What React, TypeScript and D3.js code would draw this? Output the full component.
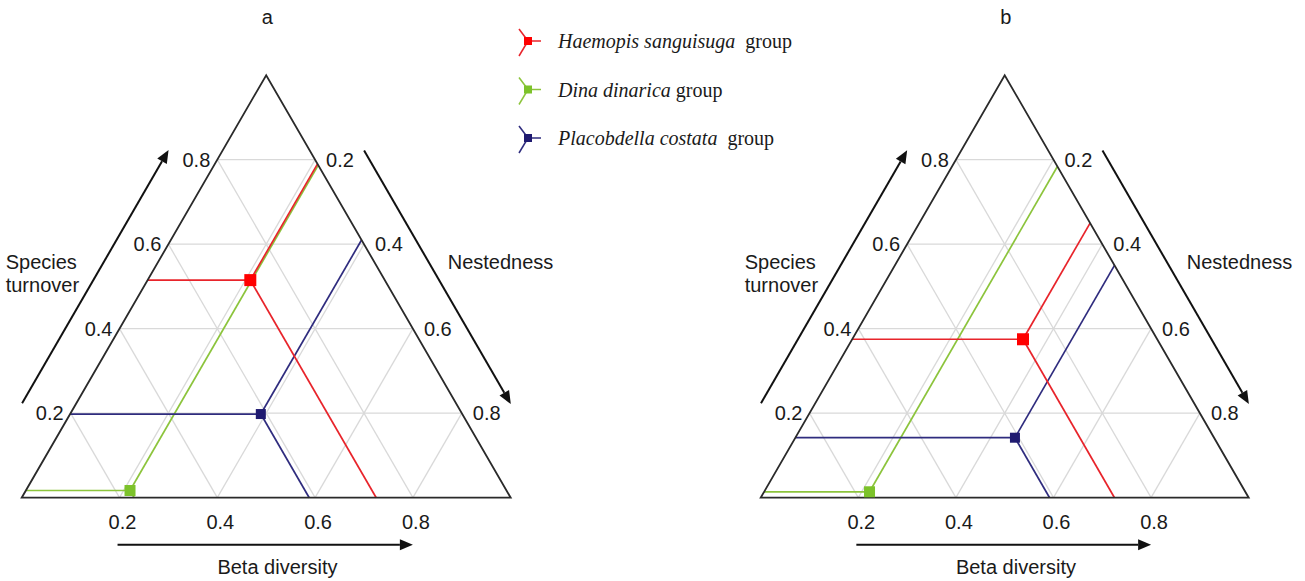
import React, { useEffect, useRef } from 'react'
import * as d3 from 'd3'

// groups and values
const groupNames = ['Haemopis sanguisuga', 'Dina dinarica', 'Placobdella costata'];
const groupSpacing = [2, 1, 2];
const groupColors = ['#e8242b', '#8cc43c', '#2f2c7e'];
const markerColors = ['#ff0000', '#7cc22a', '#1f1a70'];

const turnoverA = [0.515, 0.017, 0.198];
const nestednessA = [0.21, 0.213, 0.39];
const turnoverB = [0.375, 0.014, 0.142];
const nestednessB = [0.35, 0.216, 0.45];

const ticks = [0.2, 0.4, 0.6, 0.8];
const tickLabels = ['0.2', '0.4', '0.6', '0.8'];

const SANS = '"Liberation Sans", Arial, sans-serif';
const SERIF = '"Liberation Serif", "Times New Roman", serif';

interface Panel {
  label: string;
  x0: number;
  y0: number;
  w: number;
  h: number;
  turnover: number[];
  nestedness: number[];
}

const panels: Panel[] = [
  { label: 'a', x0: 21.7, y0: 497.7, w: 489, h: 422.5, turnover: turnoverA, nestedness: nestednessA },
  { label: 'b', x0: 760.7, y0: 497.7, w: 488, h: 422.5, turnover: turnoverB, nestedness: nestednessB },
];

function drawArrow(g: any, p0: number[], p1: number[]) {
  const dx = p1[0] - p0[0], dy = p1[1] - p0[1];
  const len = Math.sqrt(dx * dx + dy * dy);
  const ux = dx / len, uy = dy / len;
  const hl = 13, hw = 5.5;
  const bx = p1[0] - ux * hl, by = p1[1] - uy * hl;
  g.append('line')
    .attr('x1', p0[0]).attr('y1', p0[1])
    .attr('x2', bx).attr('y2', by)
    .attr('stroke', '#111').attr('stroke-width', 2);
  g.append('path')
    .attr('d', `M${p1[0]},${p1[1]}L${bx - uy * hw},${by + ux * hw}L${bx + uy * hw},${by - ux * hw}Z`)
    .attr('fill', '#111');
}

function drawPanel(svg: any, p: Panel) {
  const g = svg.append('g');
  const xScale = d3.scaleLinear().domain([0, 1]).range([p.x0, p.x0 + p.w]);
  const yScale = d3.scaleLinear().domain([0, 1]).range([p.y0, p.y0 - p.h]);
  // r = nestedness, t = turnover
  const proj = (r: number, t: number) => [xScale(r + t / 2), yScale(t)];
  const line = d3.line();

  // grid
  ticks.forEach(k => {
    [
      [proj(0, k), proj(1 - k, k)],
      [proj(k, 0), proj(k, 1 - k)],
      [proj(1 - k, 0), proj(0, 1 - k)],
    ].forEach(seg => {
      g.append('path')
        .attr('d', line(seg as any))
        .attr('stroke', '#d9d9d9')
        .attr('stroke-width', 1.3)
        .attr('fill', 'none');
    });
  });

  // data lines
  const order = [1, 2, 0];
  order.forEach(i => {
    const t = p.turnover[i], r = p.nestedness[i];
    const pt = proj(r, t);
    [
      [proj(0, t), pt],
      [pt, proj(r, 1 - r)],
      [pt, proj(r + t, 0)],
    ].forEach(seg => {
      g.append('path')
        .attr('d', line(seg as any))
        .attr('stroke', groupColors[i])
        .attr('stroke-width', 1.7)
        .attr('fill', 'none');
    });
  });

  // triangle
  g.append('path')
    .attr('d', line([proj(0, 0), proj(1, 0), proj(0, 1)] as any) + 'Z')
    .attr('stroke', '#2a2a2a')
    .attr('stroke-width', 1.8)
    .attr('stroke-linejoin', 'miter')
    .attr('fill', 'none');

  // points
  const sizes = [12, 11, 10];
  order.forEach(i => {
    const pt = proj(p.nestedness[i], p.turnover[i]);
    g.append('rect')
      .attr('x', pt[0] - sizes[i] / 2)
      .attr('y', pt[1] - sizes[i] / 2)
      .attr('width', sizes[i])
      .attr('height', sizes[i])
      .attr('fill', markerColors[i]);
  });

  // tick labels
  ticks.forEach((k, j) => {
    const left = proj(0, k);
    g.append('text')
      .attr('x', left[0] - 7).attr('y', left[1] + 7)
      .attr('text-anchor', 'end')
      .text(tickLabels[j]);
    const right = proj(k, 1 - k);
    g.append('text')
      .attr('x', right[0] + 11).attr('y', right[1] + 7)
      .attr('text-anchor', 'start')
      .text(tickLabels[j]);
    const bottom = proj(k, 0);
    g.append('text')
      .attr('x', bottom[0] + 3).attr('y', bottom[1] + 31)
      .attr('text-anchor', 'middle')
      .text(tickLabels[j]);
  });

  // axis arrows
  const off = 47;
  const bl = proj(0, 0), br = proj(1, 0), top = proj(0, 1);
  const ex = top[0] - bl[0], ey = top[1] - bl[1];
  const el = Math.sqrt(ex * ex + ey * ey);
  const nlx = ey / el, nly = -ex / el;
  drawArrow(g,
    [bl[0] + 0.168 * ex + off * nlx, bl[1] + 0.168 * ey + off * nly],
    [bl[0] + 0.767 * ex + off * nlx, bl[1] + 0.767 * ey + off * nly]);
  const fx = br[0] - top[0], fy = br[1] - top[1];
  const nrx = -fy / el, nry = fx / el;
  drawArrow(g,
    [top[0] + 0.234 * fx - off * nrx, top[1] + 0.234 * fy - off * nry],
    [top[0] + 0.834 * fx - off * nrx, top[1] + 0.834 * fy - off * nry]);
  drawArrow(g,
    [xScale(0.196), p.y0 + off],
    [xScale(0.80), p.y0 + off]);

  // axis titles
  g.append('text').attr('x', p.x0 - 16).attr('y', p.y0 - 229).text('Species');
  g.append('text').attr('x', p.x0 - 16).attr('y', p.y0 - 206).text('turnover');
  g.append('text').attr('x', p.x0 + 426).attr('y', p.y0 - 229).text('Nestedness');
  g.append('text')
    .attr('x', xScale(0.523)).attr('y', p.y0 + 76)
    .attr('text-anchor', 'middle')
    .text('Beta diversity');

  g.append('text')
    .attr('x', top[0] + 1).attr('y', 24)
    .attr('text-anchor', 'middle')
    .text(p.label);
}

export default function App() {
  const svgRef = useRef<SVGSVGElement>(null);

  useEffect(() => {
    if (!svgRef.current) return;
    const svg = d3.select(svgRef.current);
    svg.selectAll('*').remove();

    const root = svg.append('g')
      .attr('font-family', SANS)
      .attr('font-size', 20)
      .attr('fill', '#1a1a1a');

    panels.forEach(p => drawPanel(root, p));

    // legend
    const ly = d3.scaleLinear().domain([0, 2]).range([41, 138]);
    groupNames.forEach((name, i) => {
      const cx = 528, cy = ly(i);
      const lg = svg.append('g');
      lg.append('line')
        .attr('x1', cx).attr('y1', cy).attr('x2', cx + 13).attr('y2', cy)
        .attr('stroke', groupColors[i]).attr('stroke-width', 1.5);
      lg.append('line')
        .attr('x1', cx).attr('y1', cy).attr('x2', cx - 9).attr('y2', cy - 12)
        .attr('stroke', groupColors[i]).attr('stroke-width', 1.5);
      lg.append('line')
        .attr('x1', cx).attr('y1', cy).attr('x2', cx - 9).attr('y2', cy + 15)
        .attr('stroke', groupColors[i]).attr('stroke-width', 1.5);
      lg.append('rect')
        .attr('x', cx - 4).attr('y', cy - 4)
        .attr('width', 8).attr('height', 8)
        .attr('fill', markerColors[i]);
      const txt = lg.append('text')
        .attr('x', 558).attr('y', cy + 7)
        .attr('font-family', SERIF)
        .attr('font-size', 20)
        .attr('fill', '#1a1a1a');
      txt.append('tspan').attr('font-style', 'italic').text(name);
      txt.append('tspan').attr('dx', groupSpacing[i] * 5).text('group');
    });
  }, []);

  return (
    <svg
      ref={svgRef}
      width={1305}
      height={581}
      style={{ position: 'absolute', left: 0, top: 0, background: '#fff' }}
    />
  );
}
